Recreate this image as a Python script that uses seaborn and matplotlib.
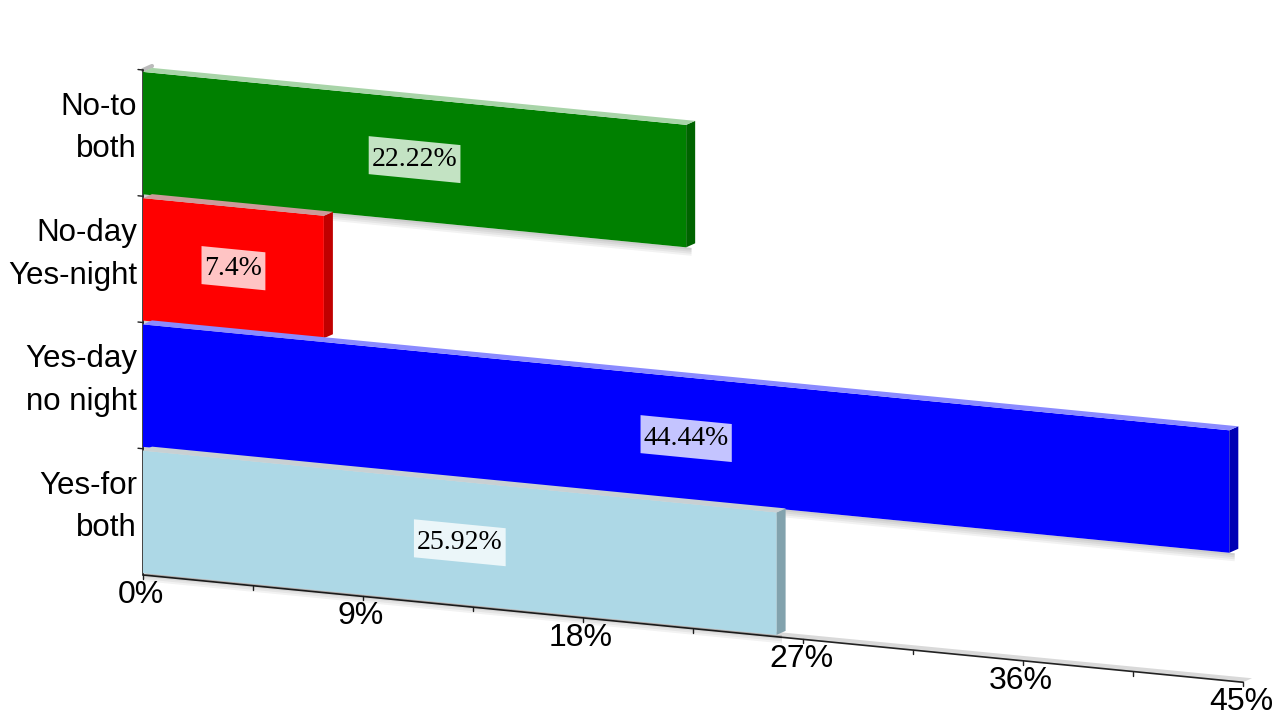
import numpy as np
import matplotlib
matplotlib.use('Agg')
import matplotlib.pyplot as plt
from matplotlib.patches import Polygon, Rectangle
from matplotlib.transforms import Affine2D, offset_copy
import seaborn as sns

# Data
categories = ['No-to\nboth', 'No-day\nYes-night', 'Yes-day\nno night', 'Yes-for\nboth']
values = [22.22, 7.4, 44.44, 25.92]
value_labels = ['22.22%', '7.4%', '44.44%', '25.92%']
bar_colors = ['#008000', '#ff0000', '#0000ff', '#add8e6']
side_colors = ['#006400', '#c00000', '#0000b4', '#82a2ad']
top_colors = ['#a8d4a8', '#cc9a9a', '#8a8aff', '#c8d0d3']
box_colors = ['#c3e3c3', '#ffc4c4', '#c4c4ff', '#ebf6f9']
x_ticks = [0, 9, 18, 27, 36, 45]
x_tick_labels = ['0%', '9%', '18%', '27%', '36%', '45%']

sns.set_theme(style='white')
plt.rcParams['font.family'] = ['Liberation Sans', 'DejaVu Sans']

W, H, DPI = 1280, 720, 100
fig = plt.figure(figsize=(W / DPI, H / DPI), dpi=DPI)
left_px, right_px, top_px, bottom_px = 143, 1243, 70, 575
ax = fig.add_axes([left_px / W, 1 - bottom_px / H,
                   (right_px - left_px) / W, (bottom_px - top_px) / H])

sns.barplot(x=values, y=categories, hue=categories, palette=bar_colors,
            orient='h', width=0.97, saturation=1, legend=False, ax=ax)
bars = sorted(ax.patches, key=lambda p: p.get_y())
ax.set_xlim(0, 45)
ax.set_ylim(3.5, -0.5)
ax.axis('off')

# perspective: shear everything in display space around the left wall
k = 0.0975
shear = (Affine2D().translate(-left_px, 0)
         .skew(0, np.arctan(-k)).translate(left_px, 0))
trans = ax.transData + shear

px_x = (right_px - left_px) / 45.0
px_y = (bottom_px - top_px) / 4.0
dx = 9 / px_x
dy = -(4 + k * 9) / px_y

# floor and walls
floor = Polygon([(0, 3.5), (45, 3.5), (45 + dx, 3.5 + dy), (dx, 3.5 + dy)],
                closed=True, facecolor='#d9d9d9', edgecolor='none',
                transform=trans, zorder=1, clip_on=False)
ax.add_patch(floor)
ax.plot([0, 45], [3.5, 3.5], color='#222222', lw=1.2, transform=trans,
        clip_on=False, zorder=1.2)
for t in np.arange(0, 45.01, 4.5):
    ax.plot([t, t], [3.5, 3.5 + 4 / px_y], color='#222222', lw=1,
            transform=trans, clip_on=False, zorder=1.2)
ax.plot([0, 0], [-0.5, 3.5], color='#222222', lw=1.2, transform=trans,
        clip_on=False, zorder=1.2)
for yb in [-0.5, 0.5, 1.5, 2.5]:
    ax.plot([0, -5 / px_x], [yb, yb], color='#222222', lw=1,
            transform=trans, clip_on=False, zorder=1.2)
ax.plot([0, dx], [-0.5, -0.5 + dy], color='#bbbbbb', lw=3,
        transform=trans, clip_on=False, zorder=1.1)

# bars with 3D faces
for i, p in enumerate(bars):
    p.set_transform(trans)
    p.set_clip_on(False)
    p.set_edgecolor('none')
    p.set_zorder(2 + i)
    x0, y0, w, h = p.get_x(), p.get_y(), p.get_width(), p.get_height()
    for s in range(4):
        sh = Rectangle((x0, y0 + h), w + dx * 0.6, (2 + 2 * s) / px_y,
                       facecolor='#000000', alpha=0.05, edgecolor='none',
                       transform=trans, zorder=1.5 + i, clip_on=False)
        ax.add_patch(sh)
    side = Polygon([(x0 + w, y0), (x0 + w, y0 + h),
                    (x0 + w + dx, y0 + h + dy), (x0 + w + dx, y0 + dy)],
                   closed=True, facecolor=side_colors[i], edgecolor='none',
                   transform=trans, zorder=2.1 + i, clip_on=False)
    top = Polygon([(x0, y0), (x0 + w, y0),
                   (x0 + w + dx, y0 + dy), (x0 + dx, y0 + dy)],
                  closed=True, facecolor=top_colors[i], edgecolor='none',
                  transform=trans, zorder=2.2 + i, clip_on=False)
    ax.add_patch(side)
    ax.add_patch(top)

    cx, cy = x0 + w / 2, y0 + h / 2
    txt = ax.text(cx, cy, value_labels[i], transform=trans, ha='center',
                  va='center', fontsize=20, family=['Liberation Serif', 'DejaVu Serif'],
                  color='black', zorder=2.4 + i, clip_on=False)
    bb = txt.get_window_extent(fig.canvas.get_renderer())
    rw = (bb.width + 6) / px_x
    rh = 38 / px_y
    box = Rectangle((cx - rw / 2, cy - rh / 2), rw, rh, facecolor=box_colors[i],
                    edgecolor='none', transform=trans, zorder=2.3 + i, clip_on=False)
    ax.add_patch(box)

# category labels
lab_trans = offset_copy(trans, fig=fig, x=-6, y=0, units='dots')
for i, cat in enumerate(categories):
    ax.text(0, i - 0.04, cat, transform=lab_trans, ha='right', va='center',
            multialignment='right', fontsize=22.5, linespacing=1.55,
            color='black', clip_on=False)

# x tick labels
tick_trans = offset_copy(trans, fig=fig, x=-2, y=-5, units='dots')
for t, lbl in zip(x_ticks, x_tick_labels):
    ax.text(t, 3.5, lbl, transform=tick_trans, ha='center', va='top',
            fontsize=23, color='black', clip_on=False)

fig.savefig('out.png', dpi=DPI, facecolor='white')
